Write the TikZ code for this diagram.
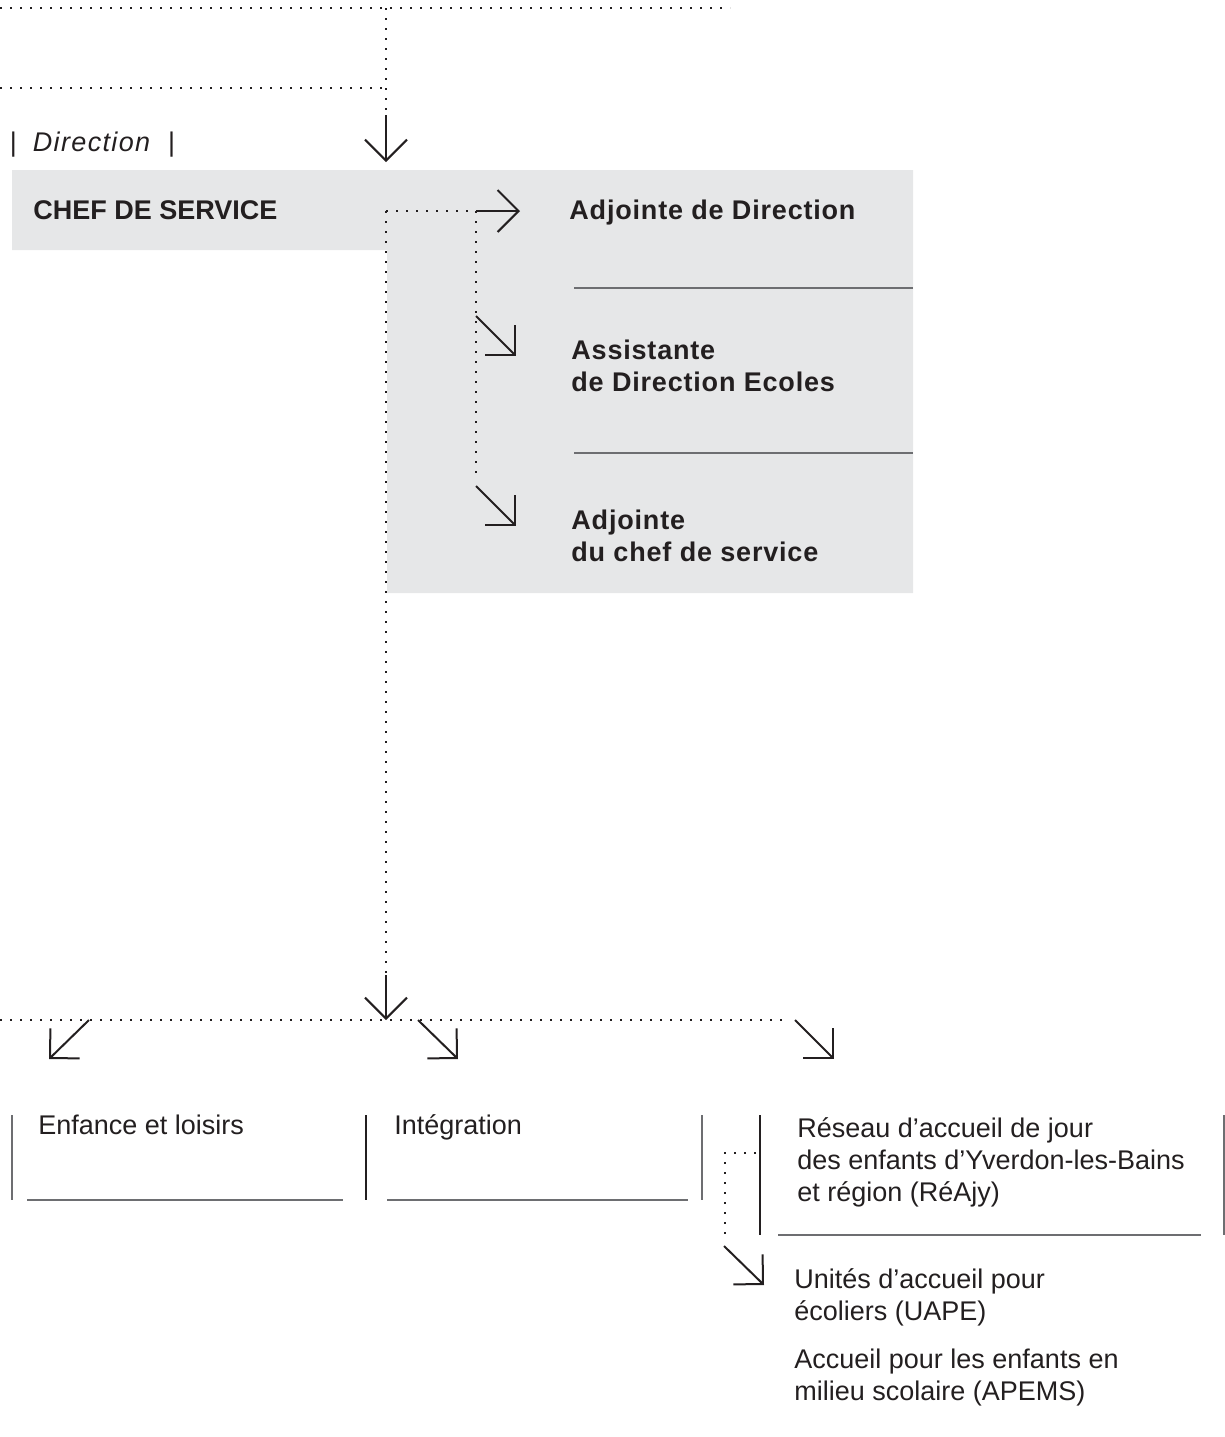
\documentclass[tikz,border=0pt]{standalone}
\usepackage{fontspec}
\setmainfont{Liberation Sans}
\newfontfamily\boldlab[LetterSpace=3]{Liberation Sans Bold}
\newfontfamily\boldcaps{Liberation Sans Bold}
\newfontfamily\itallab[LetterSpace=5]{Liberation Sans Italic}
\usetikzlibrary{arrows.meta}
\definecolor{ink}{HTML}{231F20}
\definecolor{boxgray}{HTML}{E6E7E8}
\definecolor{rulegray}{HTML}{6D6E71}
\begin{document}
\begin{tikzpicture}[x=0.5pt,y=-0.5pt,
  txt/.style={anchor=base west, inner sep=0pt, text=ink, align=left,
              font=\fontsize{13.5pt}{16pt}\selectfont},
  btxt/.style={txt, font=\fontsize{13.5pt}{16pt}\selectfont\boldlab},
  dots/.style={draw=ink, line width=1pt, dash pattern=on 1pt off 4pt},
  arw/.style={draw=ink, line width=1pt, -{Straight Barb[length=10.5pt,width=21pt]}},
  ruleline/.style={draw=rulegray, line width=1pt},
  darkline/.style={draw=ink, line width=1pt}]
\useasboundingbox (0,0) rectangle (1225,1437);

% grey background of the direction block
\fill[boxgray] (12,170) -- (913,170) -- (913,593) -- (387,593) -- (387,250) -- (12,250) -- cycle;

% texts (multi-line nodes: base anchor = baseline of the last line)
\node[txt] (dir) at (9.5,151) {|\hspace{8pt}{\itallab Direction}\hspace{9pt}|};
\node[txt, font=\fontsize{13.5pt}{16pt}\selectfont\boldcaps] (chef) at (33,219) {CHEF DE SERVICE};
\node[btxt] (adjdir) at (569,219) {Adjointe de Direction};
\node[btxt] (assist) at (571,391) {Assistante\\de Direction Ecoles};
\node[btxt] (adjchef) at (571,561) {Adjointe\\du chef de service};
\node[txt] (enf) at (38,1134) {Enfance et loisirs};
\node[txt] (integ) at (394,1134) {Intégration};
\node[txt] (reajy) at (797,1201) {Réseau d’accueil de jour\\des enfants d’Yverdon-les-Bains\\et région (RéAjy)};
\node[txt] (uape) at (794,1320) {Unités d’accueil pour\\écoliers (UAPE)};
\node[txt] (apems) at (794,1400) {Accueil pour les enfants en\\milieu scolaire (APEMS)};

% key points of the connectors
\coordinate (topR) at (730,8);
\coordinate (topL) at (0,8);
\coordinate (topJ) at (386,8);
\coordinate (midL) at (0,88);
\coordinate (midJ) at (386,88);
\coordinate (inA) at (386,115);
\coordinate (inTip) at (386,162);
\coordinate (c0) at (386,211);
\coordinate (c1) at (476,211);
\coordinate (c1tip) at (520,211);
\coordinate (c2) at (476,473);
\coordinate (d1a) at (476,316);
\coordinate (d1b) at (516,356);
\coordinate (d2a) at (476,486);
\coordinate (d2b) at (516,526);
\coordinate (downA) at (386,975);
\coordinate (downTip) at (386,1020);
\coordinate (barL) at (0,1020);
\coordinate (barR) at (788,1020);
\coordinate (b1a) at (89,1020);
\coordinate (b1b) at (49,1059);
\coordinate (b2a) at (418,1020);
\coordinate (b2b) at (458,1059);
\coordinate (b3a) at (795,1020);
\coordinate (b3b) at (834,1059);
\coordinate (u0) at (756,1153);
\coordinate (u1) at (725,1153);
\coordinate (u2) at (725,1235);
\coordinate (u3a) at (724,1246);
\coordinate (u3b) at (764,1285);

% top connectors
\draw[dots] (topL) -- (topR);
\draw[dots] (midL) -- (midJ);
\draw[dots] (topJ) -- (inA);
\draw[arw] (inA) -- (inTip);

% direction block connectors
\draw[dots] (c0) -- (c1);
\draw[arw] (c1) -- (c1tip);
\draw[dots] (c1) -- (c2);
\draw[arw] (d1a) -- (d1b);
\draw[arw] (d2a) -- (d2b);

% down to the sections
\draw[dots] (c0) -- (downA);
\draw[arw] (downA) -- (downTip);
\draw[dots] (barL) -- (barR);
\draw[arw] (b1a) -- (b1b);
\draw[arw] (b2a) -- (b2b);
\draw[arw] (b3a) -- (b3b);

% RéAjy to UAPE
\draw[dots] (u0) -- (u1) -- (u2);
\draw[arw] (u3a) -- (u3b);

% separating rules
\draw[ruleline] (574,288) -- (913,288);
\draw[ruleline] (574,453) -- (913,453);
\draw[ruleline] (27,1200) -- (343,1200);
\draw[ruleline] (387,1200) -- (688,1200);
\draw[ruleline] (778,1235) -- (1201,1235);
\draw[ruleline] (12,1115) -- (12,1200);
\draw[darkline] (366,1115) -- (366,1200);
\draw[ruleline] (702,1115) -- (702,1200);
\draw[darkline] (760,1115) -- (760,1235);
\draw[ruleline] (1224,1115) -- (1224,1235);
\end{tikzpicture}
\end{document}
